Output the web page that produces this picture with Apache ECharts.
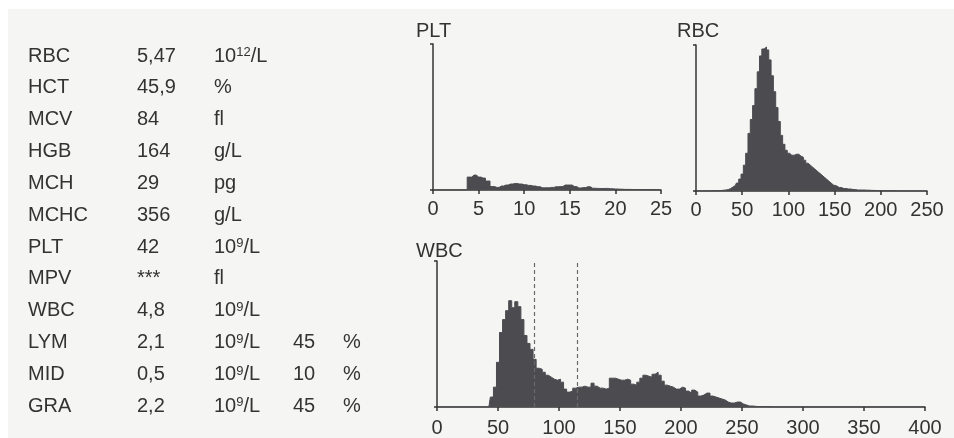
<!DOCTYPE html>
<html lang="en">
<head>
    <meta charset="UTF-8">
    <title>Blood count histograms</title>
</head>
<style type="text/css">
    *{
        margin: 0;
        padding: 0;
    }
    body{
        background: #fff;
    }
    #chart{
        width: 954px;
        height: 438px;
    }
</style>
<body>
<div id="chart"></div>
</body>
<script src="https://cdn.jsdelivr.net/npm/echarts@6/dist/echarts.min.js"></script>
<script>
    // results table (left side)
    var params = ['RBC', 'HCT', 'MCV', 'HGB', 'MCH', 'MCHC', 'PLT', 'MPV', 'WBC', 'LYM', 'MID', 'GRA'];
    var values = ['5,47', '45,9', '84', '164', '29', '356', '42', '***', '4,8', '2,1', '0,5', '2,2'];
    // {s|..} = superscript part
    var units = ['10{s|12}/L', '%', 'fl', 'g/L', 'pg', 'g/L', '10{s|9}/L', 'fl', '10{s|9}/L', '10{s|9}/L', '10{s|9}/L', '10{s|9}/L'];
    var percents = ['', '', '', '', '', '', '', '', '', '45', '10', '45'];

    // PLT histogram (fl, relative count)
    var pltX = [0, 3.5, 4, 4.5, 5, 5.5, 6, 6.5, 7, 7.5, 8, 8.5, 9, 9.5, 10, 10.5, 11, 11.5, 12, 12.5, 13, 13.5,
        14, 14.5, 15, 15.5, 16, 16.5, 17, 17.5, 18, 18.5, 19, 19.5, 20, 20.5, 21, 22, 23, 24, 25];
    var pltY = [0, 0, 13, 15, 13, 12, 9, 3.5, 2.6, 4, 5, 6, 6.5, 6, 5.3, 4.6, 4, 3.3, 2.2, 2.2, 2.6, 3.3,
        3.5, 5, 5, 3.5, 2, 2.5, 3.3, 1.8, 1.6, 1.5, 1.6, 1.2, 1, 0.8, 0.6, 0.5, 0.4, 0.3, 0];

    // RBC histogram
    var rbcX = [0, 25, 27.5, 30, 32.5, 35, 37.5, 40, 42.5, 45, 47.5, 50, 52.5, 55, 57.5, 60, 62.5, 65, 67.5, 70,
        72.5, 75, 77.5, 80, 82.5, 85, 87.5, 90, 92.5, 95, 97.5, 100, 102.5, 105, 107.5, 110, 112.5, 115, 117.5,
        120, 122.5, 125, 127.5, 130, 132.5, 135, 137.5, 140, 142.5, 145, 147.5, 150, 155, 160, 165, 170, 175,
        180, 185, 190, 195, 200, 210, 220, 250];
    var rbcY = [0, 0.5, 0.5, 0.8, 1, 1.5, 2.5, 4, 5.5, 8, 12, 17, 26, 38, 58, 72, 86, 103, 120, 136,
        143, 145, 142, 132, 116, 100, 84, 70, 56, 47, 41, 38, 36, 36, 37, 37, 35, 34, 31,
        28, 26, 24, 22, 20, 18, 16, 14, 12, 10, 8, 6, 5, 3.5, 2.5, 2, 1.5, 1,
        1, 0.8, 0.6, 0.5, 0.3, 0.2, 0, 0];

    // WBC histogram
    var wbcX = [0, 42.5, 45, 47.5, 50, 52.5, 55, 57.5, 60, 62.5, 65, 67.5, 70, 72.5, 75, 77.5, 80, 82.5, 85,
        87.5, 90, 92.5, 95, 97.5, 100, 102.5, 105, 107.5, 110, 112.5, 115, 117.5, 120, 122.5, 125, 127.5,
        130, 132.5, 135, 137.5, 140, 142.5, 145, 147.5, 150, 152.5, 155, 157.5, 160, 162.5, 165, 167.5,
        170, 172.5, 175, 177.5, 180, 182.5, 185, 187.5, 190, 192.5, 195, 197.5, 200, 202.5, 205, 207.5,
        210, 212.5, 215, 217.5, 220, 222.5, 225, 227.5, 230, 232.5, 235, 237.5, 240, 242.5, 245, 247.5,
        250, 252.5, 255, 257.5, 260, 265, 270, 275, 400];
    var wbcY = [0, 0, 10, 20, 45, 75, 88, 97, 107, 100, 106, 101, 88, 72, 64, 58, 48, 39, 38,
        35, 32, 30, 28, 27, 28, 25, 18, 15, 16, 19, 20, 20, 21, 20, 20, 24,
        21, 19, 19, 18, 19, 29, 29, 28, 27, 27, 28, 27, 23, 22, 25, 29,
        32, 31, 30, 33, 35, 32, 26, 22, 21, 20, 18, 18, 20, 19, 16, 14,
        17, 15, 11, 12, 14, 14, 11, 10, 9, 8, 7, 5, 4, 4, 5, 5,
        3, 2, 1, 1, 0.5, 0.5, 0.3, 0, 0];
    // LYM / MID / GRA discriminators
    var wbcGates = [80, 115];

    var font = '"Liberation Sans", Arial, sans-serif';
    var ink = '#333333';
    var histGray = '#4c4b50';

    function pairs(xs, ys) {
        return xs.map(function (x, i) { return [x, ys[i]]; });
    }

    function xAxisFor(idx, max, step, margin) {
        return {
            gridIndex: idx, type: 'value', min: 0, max: max, interval: step,
            axisLine: {show: true, lineStyle: {color: ink, width: 1.5}},
            axisTick: {show: true, length: 4, lineStyle: {color: ink, width: 1.5}},
            axisLabel: {color: ink, fontSize: 20, fontFamily: font, margin: margin, showMinLabel: true, showMaxLabel: true},
            splitLine: {show: false}
        };
    }

    function yAxisFor(idx) {
        return {
            gridIndex: idx, type: 'value', min: 0, max: 147, interval: 147,
            axisLine: {show: true, lineStyle: {color: ink, width: 1.5}},
            axisTick: {show: true, length: 3, lineStyle: {color: ink, width: 1.5}},
            axisLabel: {show: false},
            splitLine: {show: false}
        };
    }

    function histSeries(idx, xs, ys) {
        return {
            type: 'line', xAxisIndex: idx, yAxisIndex: idx,
            data: pairs(xs, ys), step: 'middle', symbol: 'none', silent: true,
            lineStyle: {color: histGray, width: 1},
            areaStyle: {color: histGray, opacity: 1}
        };
    }

    // table + panel titles as plain text
    var graphics = [{
        type: 'rect', left: 8, top: 9, silent: true,
        shape: {width: 946, height: 429},
        style: {fill: '#f5f5f3'}
    }];
    function addText(x, y, txt) {
        graphics.push({
            type: 'text', x: x, y: y, silent: true,
            style: {
                text: txt, fill: ink, font: '20px ' + font,
                textVerticalAlign: 'middle',
                rich: {s: {fontSize: 13, fontFamily: font, fill: ink, verticalAlign: 'top'}}
            }
        });
    }
    for (var i = 0; i < params.length; i++) {
        var rowY = 56 + i * 31.85;
        addText(28, rowY, params[i]);
        addText(137, rowY, values[i]);
        addText(214, rowY, units[i]);
        if (percents[i]) {
            addText(293, rowY, percents[i]);
            addText(343, rowY, '%');
        }
    }
    addText(416, 31.5, 'PLT');
    addText(677, 31.5, 'RBC');
    addText(416, 251, 'WBC');

    var wbcHist = histSeries(2, wbcX, wbcY);
    wbcHist.markLine = {
        silent: true, symbol: 'none', label: {show: false},
        lineStyle: {color: '#6a6a6a', type: [4, 3], width: 1.2},
        data: wbcGates.map(function (g) { return {xAxis: g}; })
    };

    var myChart = echarts.init(document.getElementById('chart'));
    var option = {
        backgroundColor: '#ffffff',
        animation: false,
        graphic: graphics,
        grid: [
            {left: 433, top: 44, width: 228, height: 146},
            {left: 696, top: 45, width: 231, height: 146},
            {left: 437, top: 261, width: 488, height: 146}
        ],
        xAxis: [
            xAxisFor(0, 25, 5, 9),
            xAxisFor(1, 250, 50, 9),
            xAxisFor(2, 400, 50, 11)
        ],
        yAxis: [yAxisFor(0), yAxisFor(1), yAxisFor(2)],
        series: [
            histSeries(0, pltX, pltY),
            histSeries(1, rbcX, rbcY),
            wbcHist
        ]
    };
    // 渲染
    myChart.setOption(option);
</script>
</html>
